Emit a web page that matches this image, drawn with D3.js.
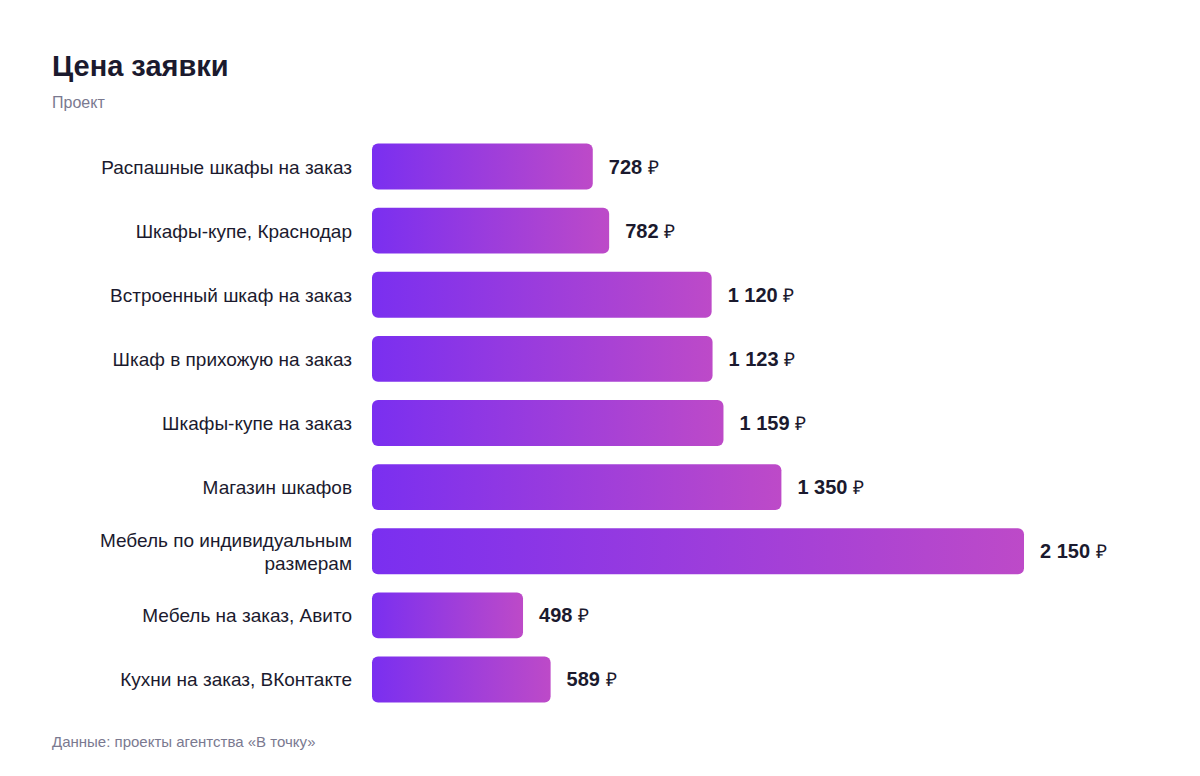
<!DOCTYPE html>
<html>
<head>
<meta charset="utf-8">
<script src="https://cdn.jsdelivr.net/npm/d3@7"></script>
<style>
  body { margin: 0; background: #fff; }
  svg { display: block; font-family: "Liberation Sans", Arial, Helvetica, sans-serif; }
</style>
</head>
<body>
<svg id="chart" width="1200" height="776"></svg>
<script>
var categories = [
  'Распашные шкафы на заказ',
  'Шкафы-купе, Краснодар',
  'Встроенный шкаф на заказ',
  'Шкаф в прихожую на заказ',
  'Шкафы-купе на заказ',
  'Магазин шкафов',
  'Мебель по индивидуальным|размерам',
  'Мебель на заказ, Авито',
  'Кухни на заказ, ВКонтакте'
];
var values = [728, 782, 1120, 1123, 1159, 1350, 2150, 498, 589];

var svg = d3.select('#chart');

// gradient for bars
var grad = svg.append('defs')
  .append('linearGradient')
    .attr('id', 'barGrad')
    .attr('x1', '0%').attr('x2', '100%')
    .attr('y1', '0%').attr('y2', '0%');
grad.append('stop').attr('offset', '0%').attr('stop-color', '#7a2ff0');
grad.append('stop').attr('offset', '100%').attr('stop-color', '#bd4ac8');

svg.append('text')
  .attr('x', 52).attr('y', 76)
  .attr('font-size', 29).attr('font-weight', 700)
  .attr('fill', '#1b1a2e')
  .text('Цена заявки');

svg.append('text')
  .attr('x', 52).attr('y', 108)
  .attr('font-size', 16)
  .attr('fill', '#7a7990')
  .text('Проект');

svg.append('text')
  .attr('x', 52).attr('y', 747)
  .attr('font-size', 15)
  .attr('fill', '#7a7990')
  .text('Данные: проекты агентства «В точку»');

var left = 372;

var x = d3.scaleLinear()
  .domain([0, 2150])
  .range([0, 652]);

var y = d3.scaleBand()
  .domain(categories)
  .range([134, 712])
  .paddingInner(0.285)
  .paddingOuter(0.15);

var rows = svg.append('g')
  .selectAll('g')
  .data(categories)
  .enter()
  .append('g')
    .attr('transform', function(d) { return 'translate(0,' + y(d) + ')'; });

rows.append('rect')
  .attr('x', left)
  .attr('y', 0)
  .attr('rx', 6)
  .attr('width', function(d, i) { return x(values[i]); })
  .attr('height', y.bandwidth())
  .attr('fill', 'url(#barGrad)');

// category labels, some are two lines
rows.each(function(d) {
  var lines = d.split('|');
  var t = d3.select(this).append('text')
    .attr('x', 352)
    .attr('text-anchor', 'end')
    .attr('font-size', 19)
    .attr('fill', '#1b1a2e');
  var start = y.bandwidth() / 2 + 7 - (lines.length - 1) * 11.5;
  lines.forEach(function(l, k) {
    t.append('tspan')
      .attr('x', 352)
      .attr('y', start + k * 23)
      .text(l);
  });
});

var fmt = function(v) { return d3.format(',')(v).replace(/,/g, ' '); };

var val = rows.append('text')
  .attr('x', function(d, i) { return left + x(values[i]) + 16; })
  .attr('y', y.bandwidth() / 2 + 7)
  .attr('font-size', 20)
  .attr('font-weight', 700)
  .attr('fill', '#1b1a2e');

val.append('tspan')
  .text(function(d, i) { return fmt(values[i]) + ' '; });
val.append('tspan')
  .attr('font-weight', 400)
  .attr('font-size', 19)
  .text('₽');
</script>
</body>
</html>
